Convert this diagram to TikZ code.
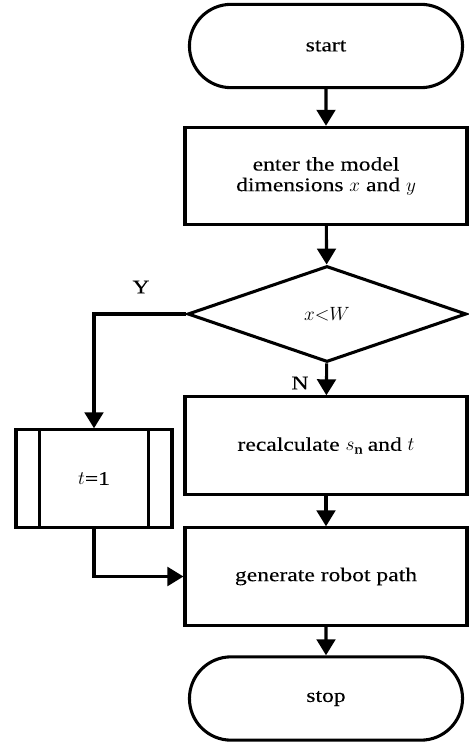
\documentclass[tikz,border=0pt]{standalone}
\usepackage{fontspec}
\setmainfont{Liberation Serif}[FakeStretch=1.22,FakeBold=0.15]
\usetikzlibrary{arrows.meta,shapes.geometric,shapes.misc}

\begin{document}
\begin{tikzpicture}[x=0.75pt, y=-0.75pt, line width=2.3pt,
    font=\fontsize{14.5}{15.5}\selectfont,
    box/.style={draw, rectangle, minimum width=211.5pt, minimum height=73pt, align=center, inner sep=2pt},
    term/.style={draw, rounded rectangle, minimum width=211.5pt, minimum height=62.5pt},
    test/.style={draw, diamond, minimum width=209pt, minimum height=72pt, inner sep=0pt},
    flow/.style={-{Triangle[width=14pt,length=12pt]}}]
      \useasboundingbox (0,0) rectangle (468,742);
      % main column
      \node[term] (start) at (326,46) {start};
      \node[box] (enter) at (326,176) {enter the model\\dimensions $x$ and $y$};
      \node[test] (cmp) at (327,314) {$x{<}W$};
      \node[box] (recalc) at (326,445.5) {recalculate $s_{\mathrm{n}}$ and $t$};
      \node[box] (gen) at (326,576.5) {generate robot path};
      \node[term] (stop) at (326,698.5) {stop};
      % side branch
      \node[box, minimum width=117pt] (tone) at (94,478.5) {$t$=1};
      \draw ([xshift=18.75pt]tone.north west) -- ([xshift=18.75pt]tone.south west);
      \draw ([xshift=-18.75pt]tone.north east) -- ([xshift=-18.75pt]tone.south east);
      \node (ylab) at (141,287) {Y};
      \node (nlab) at (300,383) {N};
      % arrows
      \draw[flow] (start) -- (enter);
      \draw[flow] (enter) -- (cmp);
      \draw[flow] (cmp) -- (recalc);
      \draw[flow] (recalc) -- (gen);
      \draw[flow] (gen) -- (stop);
      \draw[flow] (cmp.west) -| (tone.north);
      \draw[flow] (tone.south) |- (gen.west);
    \end{tikzpicture}
\end{document}
